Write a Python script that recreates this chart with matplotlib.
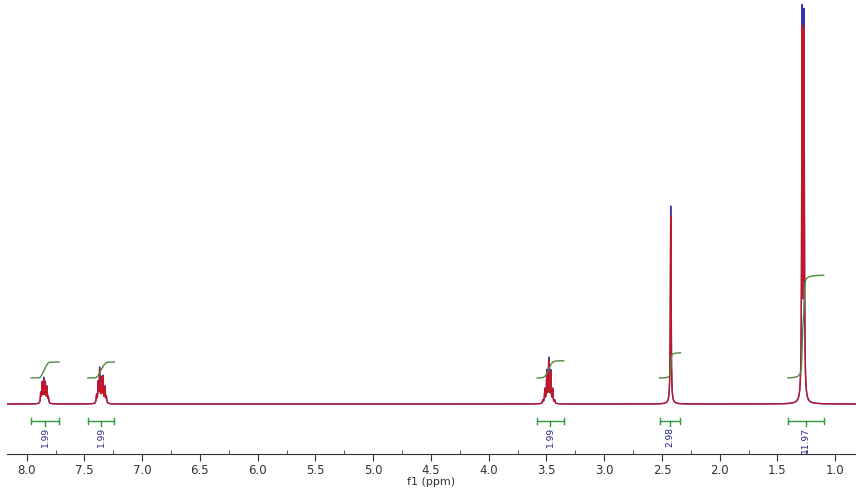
from matplotlib import pyplot as plt
from matplotlib.ticker import MultipleLocator
import numpy as np

# Lineas del espectro (ppm) y alturas relativas (pico mayor = 100)
centros_ar1 = [7.878, 7.866, 7.852, 7.838, 7.824, 7.812]
alturas_ar1 = [2.5, 5.0, 6.0, 5.0, 4.0, 1.5]
centros_ar2 = [7.395, 7.381, 7.368, 7.352, 7.338, 7.322, 7.310]
alturas_ar2 = [2.0, 5.0, 8.5, 6.0, 6.5, 4.0, 1.5]
centros_sept = [3.531, 3.514, 3.497, 3.480, 3.463, 3.446, 3.429]
alturas_sept = [0.8, 3.5, 8.0, 11.0, 8.0, 3.5, 0.8]
centros_s = [2.424]
alturas_s = [49.5]
centros_d = [1.287, 1.270]
alturas_d = [96.0, 95.0]

# Integrales: rango (ppm), valor, altura de la curva
int_inicio = [7.96, 7.47, 3.58, 2.52, 1.41]
int_fin = [7.72, 7.24, 3.35, 2.34, 1.10]
int_valor = ['1.99', '1.99', '1.99', '2.98', '11.97']
int_altura = [4.0, 4.0, 4.3, 6.3, 25.7]

ancho = 0.0035  # semiancho lorentziano en ppm


def espectro(x):
    y = np.zeros_like(x)
    centros = centros_ar1 + centros_ar2 + centros_sept + centros_s + centros_d
    alturas = alturas_ar1 + alturas_ar2 + alturas_sept + alturas_s + alturas_d
    for c, h in zip(centros, alturas):
        y += h * ancho**2 / (ancho**2 + (x - c)**2)
    return y


def main():
    fig = plt.figure(figsize=(8.56, 4.88), dpi=100)
    ax = fig.add_axes([7 / 856, 34 / 488, 849 / 856, 454 / 488])

    x = np.linspace(8.17, 0.82, 40000)
    y = espectro(x)

    # espectro azul debajo y rojo encima
    ax.plot(x, y, color='#3535b5', lw=1.0)
    ax.plot(x, y * 0.95, color='#c0182a', lw=1.0)

    # curvas de integracion y barras
    for a, b, val, h in zip(int_inicio, int_fin, int_valor, int_altura):
        xi = np.linspace(a, b, 800)
        yi = espectro(xi)
        acum = np.cumsum(yi)
        acum = acum / acum[-1]
        ax.plot(xi, 6.5 + h * acum, color='#4f8a3c', lw=1.0)

        ax.plot([a, b], [-4.2, -4.2], color='#2e9a3e', lw=1.0)
        ax.plot([a, a], [-3.5, -4.9], color='#2e9a3e', lw=1.0)
        ax.plot([b, b], [-3.5, -4.9], color='#2e9a3e', lw=1.0)
        m = (a + b) / 2
        ax.plot([m, m], [-4.2, -5.6], color='#2e9a3e', lw=1.0)
        ax.text(m, -5.7, val, rotation=90, ha='center', va='top',
                fontsize=6.5, color='#23238c')

    ax.set_xlim(8.17, 0.82)
    ax.set_ylim(-12.5, 101)

    for s in ['left', 'top', 'right']:
        ax.spines[s].set_visible(False)
    ax.spines['bottom'].set_color('#333333')
    ax.set_yticks([])

    ax.xaxis.set_minor_locator(MultipleLocator(0.25))
    ax.set_xticks(np.arange(1.0, 8.01, 0.5))
    ax.set_xticklabels([f'{v:.1f}' for v in np.arange(1.0, 8.01, 0.5)])
    ax.tick_params(axis='x', which='major', direction='out', length=5,
                   labelsize=8.5, colors='#333333', pad=2)
    ax.tick_params(axis='x', which='minor', direction='in', length=3,
                   colors='#333333')
    ax.set_xlabel('f1 (ppm)', fontsize=8, color='#333333', labelpad=0)

    plt.savefig('out.png', dpi=100)


if __name__ == "__main__":
    main()
